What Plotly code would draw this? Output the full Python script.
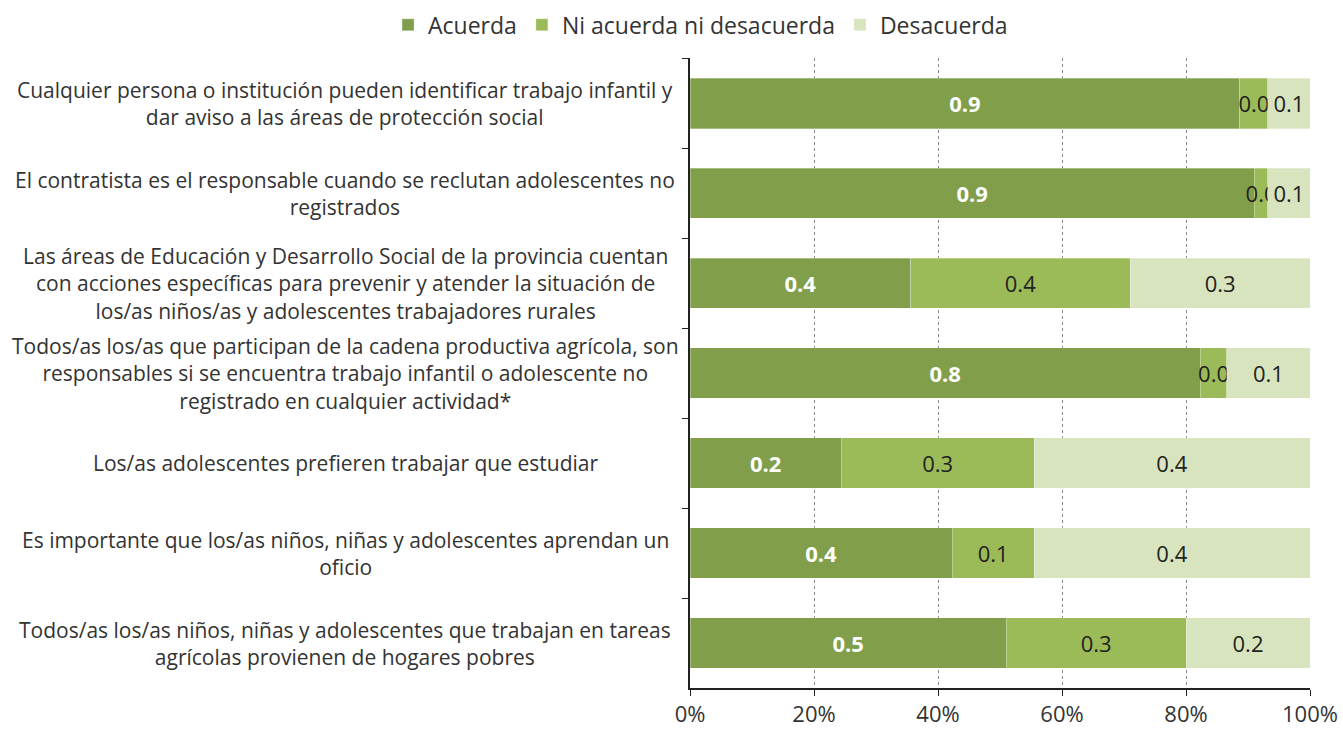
import plotly.graph_objects as go

# data (shares of respondents)
statements = [
    "Cualquier persona o institución pueden identificar trabajo infantil y<br>dar aviso a las áreas de protección social",
    "El contratista es el responsable cuando se reclutan adolescentes no<br>registrados",
    "Las áreas de Educación y Desarrollo Social de la provincia cuentan<br>con acciones específicas para prevenir y atender la situación de<br>los/as niños/as y adolescentes trabajadores rurales",
    "Todos/as los/as que participan de la cadena productiva agrícola, son<br>responsables si se encuentra trabajo infantil o adolescente no<br>registrado en cualquier actividad*",
    "Los/as adolescentes prefieren trabajar que estudiar",
    "Es importante que los/as niños, niñas y adolescentes aprendan un<br>oficio",
    "Todos/as los/as niños, niñas y adolescentes que trabajan en tareas<br>agrícolas provienen de hogares pobres",
]
acuerda = [0.887, 0.910, 0.356, 0.823, 0.244, 0.423, 0.510]
ni_ni = [0.045, 0.022, 0.354, 0.043, 0.311, 0.132, 0.290]
desacuerda = [0.068, 0.068, 0.290, 0.134, 0.445, 0.445, 0.200]

series = [
    ("Acuerda", acuerda, "#819F4B", "white"),
    ("Ni acuerda ni desacuerda", ni_ni, "#9BBB59", "#222"),
    ("Desacuerda", desacuerda, "#D7E4BD", "#222"),
]

FONT = "Open Sans"
TXT = "#333"
cats = list(range(len(statements)))

fig = go.Figure()
for name, vals, col, tcol in series:
    fig.add_trace(go.Bar(
        name=name, y=cats, x=vals, orientation="h",
        marker=dict(color=col, line=dict(color="rgba(255,255,255,0.5)", width=0.6)),
        text=[f"{v:.1f}" for v in vals], textposition="inside",
        insidetextanchor="middle", constraintext="none", textangle=0,
        textfont=dict(family=FONT, size=22, color=tcol,
                      weight="bold" if tcol == "white" else "normal"),
        hoverinfo="skip",
    ))

# left-side statement labels, centered lines like the original
for i, s in enumerate(statements):
    fig.add_annotation(x=-0.556, y=i, xref="paper", yref="y", text=s,
                       showarrow=False, xanchor="center", yanchor="middle",
                       align="center", font=dict(family=FONT, size=21, color=TXT))

fig.update_layout(
    barmode="stack", bargap=0.44,
    width=1343, height=731,
    plot_bgcolor="white", paper_bgcolor="white",
    font=dict(family=FONT, size=20, color=TXT),
    margin=dict(l=690, r=33, t=55, b=43),
    legend=dict(orientation="h", x=0.017, xanchor="center",
                yref="container", y=0.966, yanchor="middle",
                font=dict(family=FONT, size=23, color=TXT), traceorder="normal"),
    xaxis=dict(range=[0, 1], tickvals=[0, 0.2, 0.4, 0.6, 0.8, 1.0], tickformat=".0%",
               showgrid=True, gridcolor="#888", griddash="dot", gridwidth=1,
               showline=True, linecolor="#222", linewidth=1.5,
               ticks="outside", ticklen=6, tickcolor="#222", automargin=False,
               ticklabeloverflow="allow",
               tickfont=dict(family=FONT, size=22, color=TXT), zeroline=False),
    yaxis=dict(type="category", autorange="reversed", showticklabels=False,
               tickson="boundaries", ticks="outside", ticklen=6, tickcolor="#222",
               showline=True, linecolor="#222", linewidth=1.5, showgrid=False),
)

# drop the default 8px body margin so the figure sits at the page corner
fig.write_html("out.html", config={"displayModeBar": False},
               post_script="document.body.style.margin='0';")
